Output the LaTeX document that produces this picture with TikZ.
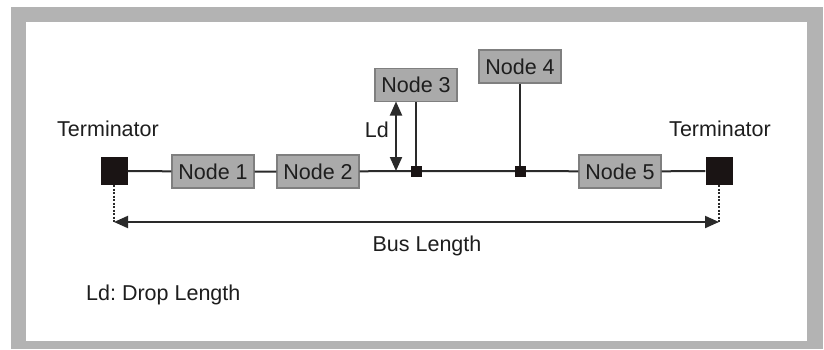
\documentclass[tikz,border=0pt]{standalone}
\usepackage{fontspec}
\setmainfont{Liberation Sans}
\usetikzlibrary{arrows.meta}
\frenchspacing
\definecolor{framegray}{HTML}{B3B3B3}
\definecolor{nodefill}{HTML}{AAAAAA}
\definecolor{nodeedge}{HTML}{7F7F7F}
\definecolor{termfill}{HTML}{1A1414}
\definecolor{linecol}{HTML}{2A2A2A}
\definecolor{txt}{HTML}{1E1E1E}
\begin{document}
\begin{tikzpicture}[x=1pt,y=-1pt,
  every node/.style={font=\fontsize{21.5}{24}\selectfont, text=txt},
  busnode/.style={draw=nodeedge, line width=1.3pt, fill=nodefill, minimum width=82pt, minimum height=33pt, inner sep=0pt},
  term/.style={draw=none, fill=termfill, minimum width=27pt, minimum height=28pt, inner sep=0pt},
  junc/.style={draw=none, fill=termfill, minimum width=11pt, minimum height=11pt, inner sep=0pt},
  bus/.style={draw=linecol, line width=2pt},
  dim/.style={draw=linecol, line width=2pt, {Triangle[length=14pt,width=12pt]}-{Triangle[length=14pt,width=12pt]}},
  dotline/.style={draw=linecol, line width=2pt, dash pattern=on 2pt off 1.5pt},
  lbl/.style={inner sep=0pt}]
\useasboundingbox (0,0) rectangle (824,349);
\fill[framegray] (11,7) rectangle (823,349);
\fill[white] (26,22) rectangle (807,341);

\node[term] (TL) at (114,171) {};
\node[term] (TR) at (719,171) {};
\node[busnode] (N1) at (213,171.5) {Node 1};
\node[busnode] (N2) at (318,171.5) {Node 2};
\node[busnode] (N3) at (416,85) {Node 3};
\node[busnode] (N4) at (520,66.5) {Node 4};
\node[busnode] (N5) at (620,171.5) {Node 5};
\coordinate (J3) at (416,171);
\coordinate (J4) at (520,171);

\draw[bus] (TL) -- (N1) -- (N2) -- (J3) -- (J4) -- (N5) -- (TR);
\draw[bus] (N3.south) -- (J3);
\draw[bus] (N4.south) -- (J4);
\node[junc] (J3b) at (J3) {};
\node[junc] (J4b) at (J4) {};

\coordinate (LdTop) at (396,101.5);
\coordinate (LdBot) at (396,171);
\draw[dim] (LdTop) -- (LdBot);
\node[lbl, anchor=east] (Ld) at (389,130) {Ld};

\coordinate (BL) at (114,222);
\coordinate (BR) at (719,222);
\draw[dotline] (TL.south) -- (BL);
\draw[dotline] (TR.south) -- (BR);
\draw[dim] (BL) -- (BR);

\node[lbl] (TLl) at (108,129) {Terminator};
\node[lbl] (TRl) at (720,129) {Terminator};
\node[lbl] (BusL) at (427,246) {Bus Length};
\node[lbl, anchor=west] (LdL) at (86,295) {Ld: Drop Length};
\end{tikzpicture}
\end{document}
